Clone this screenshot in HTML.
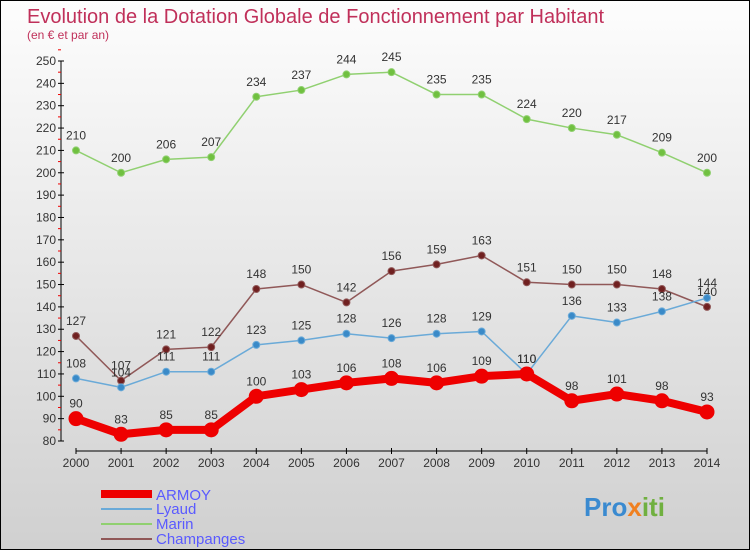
<!DOCTYPE html>
<html><head><meta charset="utf-8"><style>
body{margin:0;}
#c{width:748px;height:548px;border:1px solid #000;background:linear-gradient(#fdfdfd,#d0d0d0);position:relative;font-family:"Liberation Sans",sans-serif;}
</style></head><body>
<div id="c">
<svg id="s" width="748" height="548" xmlns="http://www.w3.org/2000/svg">
<text x="26" y="22" font-size="20" fill="#c0305a">Evolution de la Dotation Globale de Fonctionnement par Habitant</text>
<text x="26" y="38" font-size="12" fill="#c0305a">(en € et par an)</text>
<g id="axes"></g><g id="series"></g>
<g>
<line x1="100" y1="493" x2="151" y2="493" stroke="#e00" stroke-width="8"/>
<text x="155" y="499" font-size="15" fill="#5a5aff">ARMOY</text>
<line x1="100" y1="508" x2="151" y2="508" stroke="#6aaad8" stroke-width="2"/>
<text x="155" y="513" font-size="15" fill="#5a5aff">Lyaud</text>
<line x1="100" y1="523" x2="151" y2="523" stroke="#90d070" stroke-width="2"/>
<text x="155" y="528" font-size="15" fill="#5a5aff">Marin</text>
<line x1="100" y1="538" x2="151" y2="538" stroke="#905858" stroke-width="2"/>
<text x="155" y="543" font-size="15" fill="#5a5aff">Champanges</text>
</g>
<text x="583" y="515" font-size="26" font-weight="bold" fill="#3a8ad0">Pro<tspan fill="#f08020">x</tspan><tspan fill="#70b040">iti</tspan></text>
</svg></div>
<script>
const years=[2000,2001,2002,2003,2004,2005,2006,2007,2008,2009,2010,2011,2012,2013,2014];
const armoy=[90,83,85,85,100,103,106,108,106,109,110,98,101,98,93];
const lyaud=[108,104,111,111,123,125,128,126,128,129,110,136,133,138,144];
const marin=[210,200,206,207,234,237,244,245,235,235,224,220,217,209,200];
const champ=[127,107,121,122,148,150,142,156,159,163,151,150,150,148,140];
const yTicks=[80,90,100,110,120,130,140,150,160,170,180,190,200,210,220,230,240,250];
const NS="http://www.w3.org/2000/svg";
const X=i=>75+i*(631/14);
const Y=v=>440-(v-80)*(380/170);
function mk(t,a,p){const e=document.createElementNS(NS,t);for(const k in a)e.setAttribute(k,a[k]);p.appendChild(e);return e;}
const ax=document.getElementById('axes');
const yl=mk('line',{x1:60,y1:Y(250),x2:60,y2:Y(80),stroke:'#000'},ax);


yTicks.forEach(v=>{
 mk('line',{x1:57,y1:Y(v),x2:63,y2:Y(v),stroke:'#000'},ax);
 mk('line',{x1:57,y1:Y(v+5),x2:60,y2:Y(v+5),stroke:'#e00'},ax);
 const t=mk('text',{x:55,y:Y(v)+4,'font-size':12,fill:'#333','text-anchor':'end'},ax);t.textContent=v;
 
 
});
const xl=mk('line',{x1:X(0),y1:450,x2:X(14),y2:450,stroke:'#000'},ax);


years.forEach((y,i)=>{
 mk('line',{x1:X(i),y1:447,x2:X(i),y2:453,stroke:'#000'},ax);
 const t=mk('text',{x:X(i),y:466,'font-size':12,fill:'#333','text-anchor':'middle'},ax);t.textContent=y;
 
 
});
const sg=document.getElementById('series');
function series(d,name,col,w,r,dot){
 const g=mk('g',{},sg);
 
 
 mk('polyline',{points:d.map((v,i)=>X(i)+','+Y(v)).join(' '),fill:'none',stroke:col,'stroke-width':w,'stroke-linejoin':'round'},g);
 d.forEach((v,i)=>{
  const c=mk('circle',{cx:X(i),cy:Y(v),r:r,fill:dot,stroke:col,'stroke-width':1},g);
  
  
  const t=mk('text',{x:X(i),y:Y(v)-11,'font-size':12,fill:'#333','text-anchor':'middle'},g);t.textContent=v;
  
  
 });
}
series(marin,'marin','#90d070',1.5,3.5,'#70c040');
series(champ,'champanges','#905858',1.5,3.5,'#702020');
series(lyaud,'lyaud','#6aaad8',1.5,3.5,'#3a8ac8');
series(armoy,'armoy','#e00',8,7,'#e00');
</script>
</body></html>
